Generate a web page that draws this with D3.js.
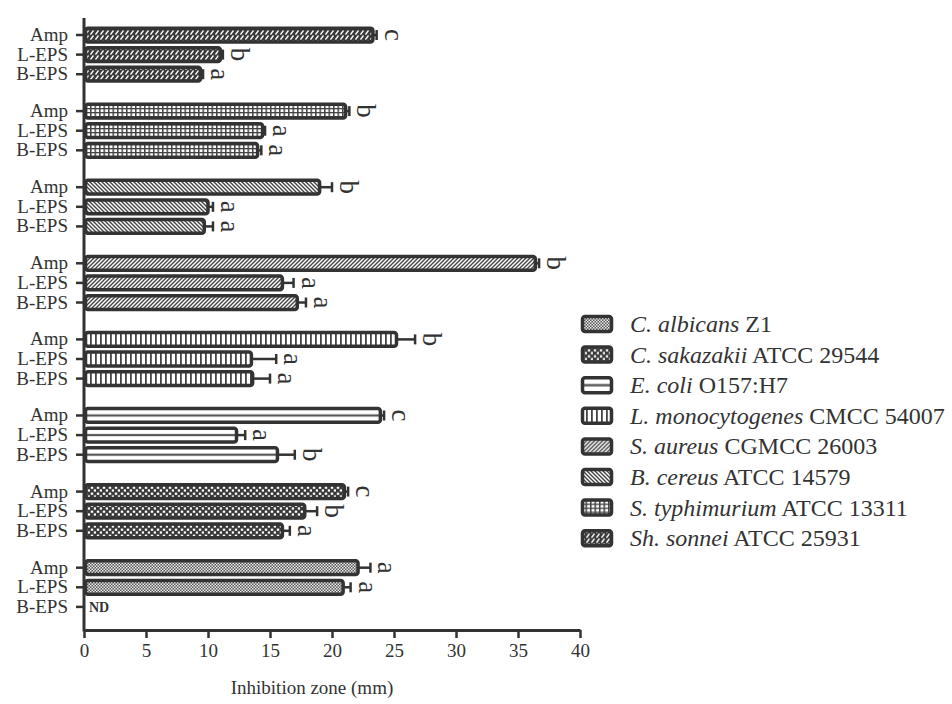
<!DOCTYPE html>
<html><head><meta charset="utf-8">
<script src="https://cdn.jsdelivr.net/npm/d3@7"></script>
<style>
html,body{margin:0;padding:0;background:#fff;}
svg text{font-family:"Liberation Serif","Times New Roman",serif;fill:#333;}
</style></head>
<body><svg id="chart" width="952" height="704"></svg>
<script>
// ---- data (groups top to bottom) ----
const groups = ["Sh. sonnei","S. typhimurium","B. cereus","S. aureus","L. monocytogenes","E. coli","C. sakazakii","C. albicans"];
const treatments = ["Amp","L-EPS","B-EPS"];
const ampValues  = [23.3, 21.1, 19.0, 36.4, 25.2, 23.9, 21.0, 22.1];
const ampErr     = [0.3, 0.3, 1.0, 0.3, 1.5, 0.3, 0.3, 1.0];
const ampLetters = ["c","b","b","b","b","c","c","a"];
const lepsValues = [11.0, 14.4, 10.0, 16.0, 13.5, 12.3, 17.8, 20.9];
const lepsErr    = [0.2, 0.2, 0.4, 0.9, 2.0, 0.7, 1.0, 0.6];
const lepsLetters= ["b","a","a","a","a","a","b","a"];
const bepsValues = [9.4, 14.0, 9.7, 17.2, 13.6, 15.6, 16.0, null];
const bepsErr    = [0.2, 0.3, 0.7, 0.7, 1.4, 1.4, 0.6, null];
const bepsLetters= ["a","a","a","a","a","b","a",null];
const xTicks = [0,5,10,15,20,25,30,35,40];
const legendSpecies = ["C. albicans","C. sakazakii","E. coli","L. monocytogenes","S. aureus","B. cereus","S. typhimurium","Sh. sonnei"];
const legendStrains = ["Z1","ATCC 29544","O157:H7","CMCC 54007","CGMCC 26003","ATCC 14579","ATCC 13311","ATCC 25931"];
const xTitle = "Inhibition zone (mm)";

const rows = [];
groups.forEach((g,i)=>{
  rows.push({g, t:"Amp", v:ampValues[i], e:ampErr[i], l:ampLetters[i]});
  rows.push({g, t:"L-EPS", v:lepsValues[i], e:lepsErr[i], l:lepsLetters[i]});
  rows.push({g, t:"B-EPS", v:bepsValues[i], e:bepsErr[i], l:bepsLetters[i]});
});

const svg = d3.select("#chart");
const dark = "#333";
const defs = svg.append("defs");
const pid = g => "p" + groups.indexOf(g);

// ---- patterns ----
function pat(id, w, h, bg){
  const p = defs.append("pattern").attr("id",id).attr("patternUnits","userSpaceOnUse").attr("width",w).attr("height",h);
  p.append("rect").attr("width",w).attr("height",h).attr("fill",bg);
  return p;
}
// Sh. sonnei: dark with white slanted dashes
{ const p = pat("p0",5,5,"#3a3a3a");
  p.append("path").attr("d","M0.5,4.5 L3.5,0.5").attr("stroke","#fff").attr("stroke-width",1.3); }
// S. typhimurium: grid
{ const p = pat("p1",4.5,4,"#fff");
  p.append("rect").attr("x",0).attr("y",0).attr("width",1.5).attr("height",4).attr("fill","#444");
  p.append("rect").attr("x",0).attr("y",0).attr("width",4.5).attr("height",1.3).attr("fill","#444"); }
// B. cereus: backslash lines
{ const p = pat("p2",4,4,"#fff");
  p.append("path").attr("d","M-1,-1 L5,5 M-1,3 L1,5 M3,-1 L5,1").attr("stroke","#444").attr("stroke-width",1.4); }
// S. aureus: slash lines
{ const p = pat("p3",4,4,"#fff");
  p.append("path").attr("d","M-1,5 L5,-1 M-1,1 L1,-1 M3,5 L5,3").attr("stroke","#444").attr("stroke-width",1.4); }
// L. monocytogenes: vertical lines
{ const p = pat("p4",5,5,"#fff");
  p.append("rect").attr("x",0).attr("y",0).attr("width",1.8).attr("height",5).attr("fill","#444"); }
// E. coli: single middle horizontal line (object bbox)
{ const p = defs.append("pattern").attr("id","p5").attr("patternUnits","objectBoundingBox")
    .attr("patternContentUnits","objectBoundingBox").attr("width",1).attr("height",1);
  p.append("rect").attr("width",1).attr("height",1).attr("fill","#fff");
  p.append("rect").attr("x",0).attr("y",0.42).attr("width",1).attr("height",0.16).attr("fill","#555"); }
// C. sakazakii: dark with white squares (offset)
{ const p = pat("p6",6,6,"#3a3a3a");
  p.append("rect").attr("x",0.8).attr("y",0.6).attr("width",2.4).attr("height",2.2).attr("fill","#fff");
  p.append("rect").attr("x",3.8).attr("y",3.4).attr("width",2.4).attr("height",2.2).attr("fill","#fff"); }
// C. albicans: fine checker
{ const p = pat("p7",3,3,"#555");
  p.append("rect").attr("x",0).attr("y",0).attr("width",1.5).attr("height",1.5).attr("fill","#eee");
  p.append("rect").attr("x",1.5).attr("y",1.5).attr("width",1.5).attr("height",1.5).attr("fill","#eee"); }

// ---- scales ----
const x = d3.scaleLinear().domain([0,40]).range([84,580]);
const yG = d3.scaleBand().domain(groups).range([25.2, 616.7]).paddingInner(0.227).paddingOuter(0);
const yT = d3.scaleBand().domain(treatments).range([0, yG.bandwidth()]).paddingInner(0.12).paddingOuter(0.06);
const yc = d => yG(d.g) + yT(d.t) + yT.bandwidth()/2;

// ---- bars ----
const withV = rows.filter(d=>d.v!=null);
svg.append("g").selectAll("rect").data(withV).join("rect")
  .attr("x", x(0)+1.5).attr("y", d=>yG(d.g)+yT(d.t)+1.75)
  .attr("width", d=>x(d.v)-x(0)-1.5).attr("height", yT.bandwidth()-3.5)
  .attr("rx",2.5)
  .attr("fill", d=>`url(#${pid(d.g)})`).attr("stroke",dark).attr("stroke-width",3.5);

// ---- error bars ----
const eg = svg.append("g").attr("stroke",dark).attr("stroke-width",2.5);
eg.selectAll("line.e").data(withV).join("line").attr("class","e")
  .attr("x1", d=>x(d.v)).attr("x2", d=>x(d.v+d.e)).attr("y1", yc).attr("y2", yc);
eg.selectAll("line.c").data(withV).join("line").attr("class","c")
  .attr("x1", d=>x(d.v+d.e)).attr("x2", d=>x(d.v+d.e)).attr("y1", d=>yc(d)-5).attr("y2", d=>yc(d)+5);

// ---- significance letters ----
svg.append("g").selectAll("text").data(withV).join("text")
  .attr("transform", d=>`translate(${x(d.v+d.e)+8},${yc(d)}) rotate(90)`)
  .attr("text-anchor","middle").attr("font-size",27).text(d=>d.l);

// ND
svg.append("g").selectAll("text").data(rows.filter(d=>d.v==null)).join("text")
  .attr("x", x(0)+5).attr("y", d=>yc(d)+5).attr("font-size",14).attr("font-weight","bold").text("ND");

// ---- y axis ----
const ya = svg.append("g");
ya.append("line").attr("x1",x(0)).attr("x2",x(0)).attr("y1",18).attr("y2",631.5).attr("stroke",dark).attr("stroke-width",3);
ya.selectAll("line.t").data(rows).join("line").attr("class","t")
  .attr("x1",76).attr("x2",x(0)).attr("y1",yc).attr("y2",yc).attr("stroke",dark).attr("stroke-width",2.5);
ya.selectAll("text").data(rows).join("text")
  .attr("x",68).attr("y",d=>yc(d)+6).attr("text-anchor","end").attr("font-size",19).text(d=>d.t);

// ---- x axis ----
const xa = svg.append("g").attr("transform","translate(0,630)")
  .call(d3.axisBottom(x).tickValues(xTicks).tickSize(8).tickSizeOuter(0).tickPadding(6));
xa.select(".domain").attr("stroke",dark).attr("stroke-width",3);
xa.selectAll(".tick line").attr("stroke",dark).attr("stroke-width",2.5);
xa.selectAll(".tick text").attr("font-size",19).attr("fill","#333").attr("font-family","Liberation Serif, serif");
svg.append("text").attr("x",(x(0)+x(40))/2 - 20).attr("y",694).attr("text-anchor","middle").attr("font-size",19).text(xTitle);

// ---- legend ----
const lg = svg.append("g").selectAll("g").data(legendSpecies).join("g")
  .attr("transform",(d,i)=>`translate(581,${324 + i*30.6})`);
lg.append("rect").attr("x",1.5).attr("y",-7.5).attr("width",29).attr("height",15).attr("rx",2.5)
  .attr("fill",(d,i)=>`url(#p${groups.indexOf(legendSpecies[i])})`).attr("stroke",dark).attr("stroke-width",3.5);
const lt = lg.append("text").attr("x",49).attr("y",8).attr("font-size",24);
lt.append("tspan").attr("font-style","italic").text(d=>d);
lt.append("tspan").text((d,i)=>" " + legendStrains[i]);
</script></body></html>
